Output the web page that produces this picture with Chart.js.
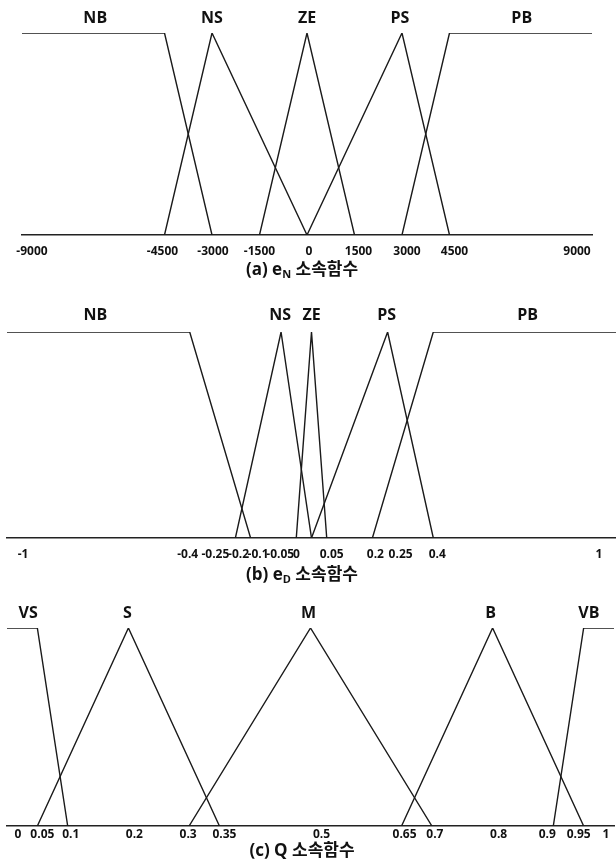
<!DOCTYPE html>
<html>
<head>
<meta charset="utf-8">
<script src="https://cdn.jsdelivr.net/npm/chart.js@4.4.1/dist/chart.umd.min.js"></script>
<style>
  html, body { margin: 0; padding: 0; background: #fff; }
  #page { position: relative; width: 616px; height: 860px; overflow: hidden; }
  .panel { position: absolute; left: 0; width: 616px; }
  .panel canvas { display: block; }
  .cap {
    position: absolute; left: 0; width: 604px; text-align: center;
    font: bold 17px "Open Sans", "Noto Sans CJK KR", sans-serif;
    color: #111; line-height: 20px; white-space: nowrap;
  }
  .cap sub { font-size: 11px; vertical-align: -3px; line-height: 0; }
</style>
</head>
<body>
<div id="page">
  <div class="panel" style="top:0;height:262px"><canvas id="chartEN" width="616" height="262"></canvas></div>
  <div class="cap" style="top:259px">(a) e<sub>N</sub> 소속함수</div>

  <div class="panel" style="top:290px;height:280px"><canvas id="chartED" width="616" height="280"></canvas></div>
  <div class="cap" style="top:564px">(b) e<sub>D</sub> 소속함수</div>

  <div class="panel" style="top:590px;height:255px"><canvas id="chartQ" width="616" height="255"></canvas></div>
  <div class="cap" style="top:840px">(c) Q 소속함수</div>
</div>

<script>
// (a) e_N: speed error membership functions
const enTerms  = ['NB', 'NS', 'ZE', 'PS', 'PB'];
const enPoints = [[-9000, -4500, -3000], [-4500, -3000, 0], [-1500, 0, 1500], [0, 3000, 4500], [3000, 4500, 9000]];
const enGrades = [[1, 1, 0], [0, 1, 0], [0, 1, 0], [0, 1, 0], [0, 1, 1]];
const enTicks  = [-9000, -4500, -3000, -1500, 0, 1500, 3000, 4500, 9000];

// (b) e_D: error derivative membership functions
const edTerms  = ['NB', 'NS', 'ZE', 'PS', 'PB'];
const edPoints = [[-1, -0.4, -0.2], [-0.25, -0.1, 0], [-0.05, 0, 0.05], [0, 0.25, 0.4], [0.2, 0.4, 1]];
const edGrades = [[1, 1, 0], [0, 1, 0], [0, 1, 0], [0, 1, 0], [0, 1, 1]];
const edTicks  = [-1, -0.4, -0.25, -0.2, -0.1, -0.05, 0, 0.05, 0.2, 0.25, 0.4, 1];

// (c) Q: output membership functions
const qTerms  = ['VS', 'S', 'M', 'B', 'VB'];
const qPoints = [[0, 0.05, 0.1], [0.05, 0.2, 0.35], [0.3, 0.5, 0.7], [0.65, 0.8, 0.95], [0.9, 0.95, 1]];
const qGrades = [[1, 1, 0], [0, 1, 0], [0, 1, 0], [0, 1, 0], [0, 1, 1]];
const qTicks  = [0, 0.05, 0.1, 0.2, 0.3, 0.35, 0.5, 0.65, 0.7, 0.8, 0.9, 0.95, 1];

// Term names above each set and value labels under the axis
const fuzzyText = {
  id: 'fuzzyText',
  afterDraw(chart, args, opts) {
    const { ctx, chartArea, scales: { x } } = chart;
    ctx.save();
    ctx.fillStyle = '#111';
    ctx.textAlign = 'center';
    ctx.textBaseline = 'middle';

    ctx.font = 'bold 16px "Open Sans", sans-serif';
    chart.data.datasets.forEach((ds, i) => {
      const tops = ds.data.filter(p => p.y === 1).map(p => p.x);
      const mid = (Math.min(...tops) + Math.max(...tops)) / 2;
      ctx.fillText(ds.label, x.getPixelForValue(mid) + (opts.nameShift[i] || 0), chartArea.top - opts.nameGap);
    });

    ctx.font = 'bold 12px "Open Sans", sans-serif';
    opts.ticks.forEach((v, i) => {
      ctx.fillText(String(v), x.getPixelForValue(v) + (opts.tickShift[i] || 0), chartArea.bottom + opts.tickGap);
    });
    ctx.restore();
  }
};

function buildChart(id, terms, points, grades, ticks, xMin, xMax, frame) {
  const datasets = terms.map((t, i) => ({
    label: t,
    data: points[i].map((px, k) => ({ x: px, y: grades[i][k] })),
    showLine: true,
    pointRadius: 0,
    borderColor: '#1a1a1a',
    borderWidth: 1.4,
    tension: 0,
    fill: false
  }));
  return new Chart(document.getElementById(id), {
    type: 'scatter',
    data: { datasets },
    options: {
      responsive: false,
      animation: false,
      events: [],
      layout: { autoPadding: false, padding: frame.padding },
      plugins: {
        legend: { display: false },
        tooltip: { enabled: false },
        fuzzyText: {
          ticks,
          nameGap: frame.nameGap,
          tickGap: frame.tickGap,
          nameShift: frame.nameShift,
          tickShift: frame.tickShift
        }
      },
      scales: {
        x: {
          type: 'linear', min: xMin, max: xMax,
          grid: { display: false, drawTicks: false },
          ticks: { display: false },
          border: { display: true, color: '#222', width: 1.6 }
        },
        y: { display: false, min: 0, max: 1 }
      }
    },
    plugins: [fuzzyText]
  });
}

buildChart('chartEN', enTerms, enPoints, enGrades, enTicks, -9000, 9000, {
  padding: { top: 33, bottom: 27, left: 22, right: 24 },
  nameGap: 15, tickGap: 17,
  nameShift: [2, 0, 0, -2, 1],
  tickShift: [10, -2, 1, 0, 2, 4, 5, 5, -15]
});

buildChart('chartED', edTerms, edPoints, edGrades, edTicks, -1, 1, {
  padding: { top: 42, bottom: 32, left: 7, right: 0 },
  nameGap: 17, tickGap: 17,
  nameShift: [-3, -1, 0, -1, 3],
  tickShift: [16, -2, -20, -12, -23, -16, -15, 5, 3, 13, 4, -17]
});

buildChart('chartQ', qTerms, qPoints, qGrades, qTicks, 0, 1, {
  padding: { top: 38, bottom: 19, left: 7, right: 2 },
  nameGap: 15, tickGap: 9,
  nameShift: [6, -1, -2, -2, -10],
  tickShift: [11, 5, 3, 6, -1, 5, 11, 3, 3, 6, -6, -5, -8]
});
</script>
</body>
</html>
